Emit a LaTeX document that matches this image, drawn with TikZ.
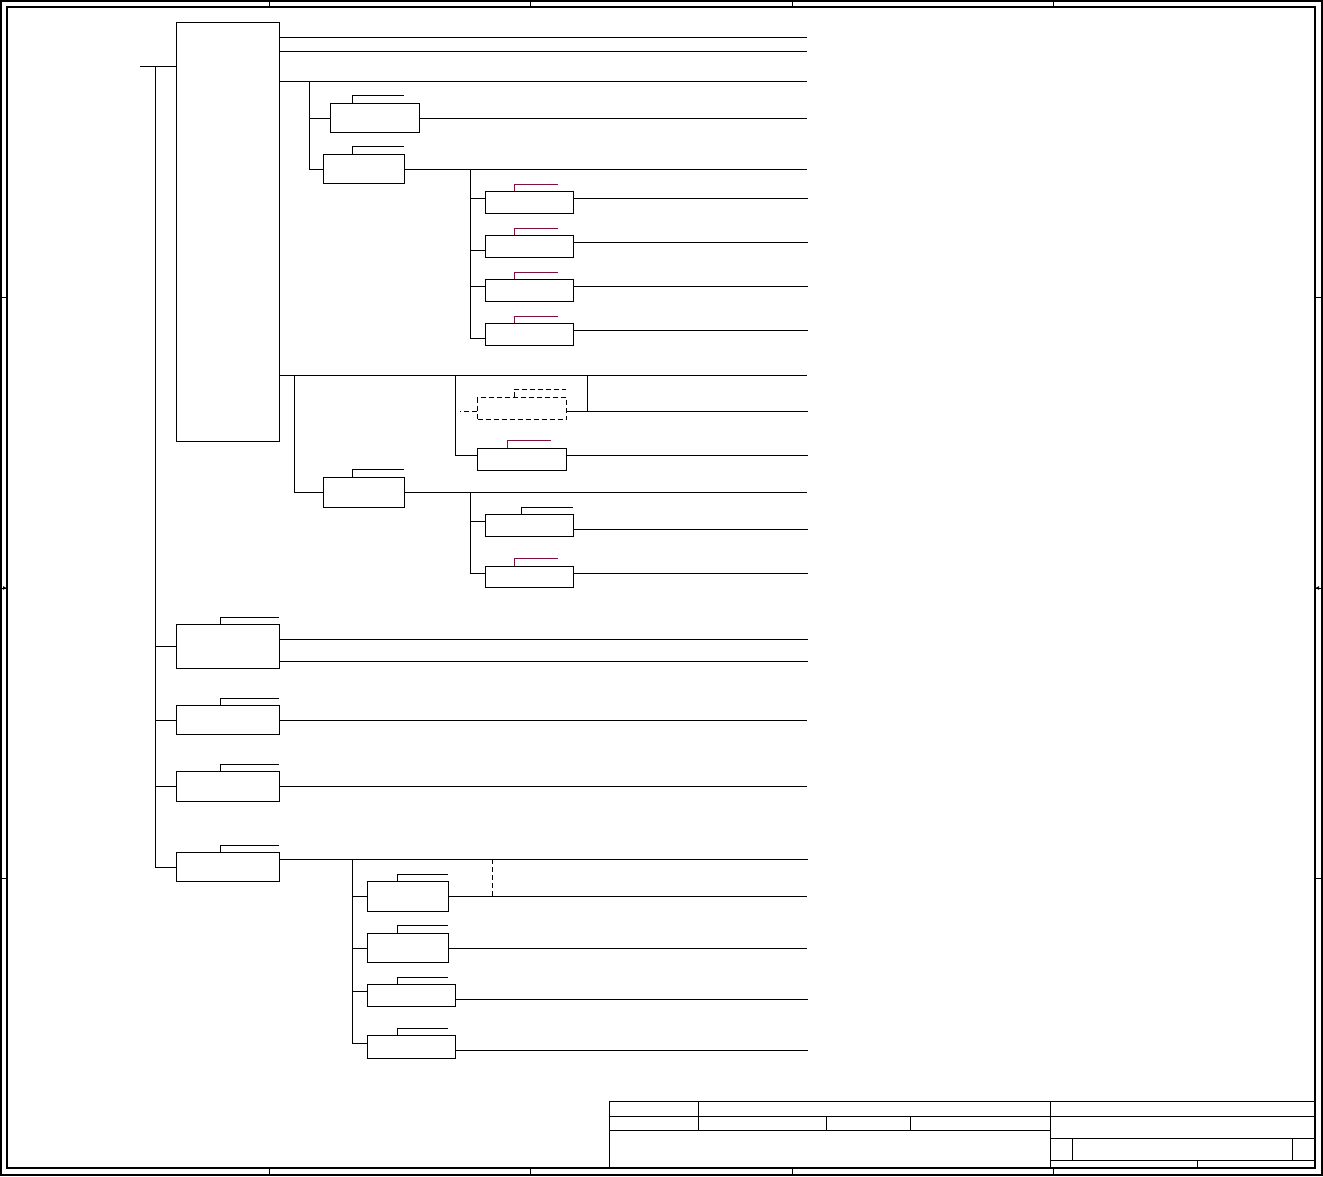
\documentclass[tikz,border=0pt]{standalone}
\usepackage{tikz}
\usetikzlibrary{arrows.meta,positioning,calc}
\definecolor{ink}{HTML}{000000}
\definecolor{tag}{HTML}{800F40}

\tikzset{
  unit/.style={draw=ink,line width=1pt,inner sep=0pt,anchor=north west},
  ghost/.style={unit,dash pattern=on 5pt off 3pt},
  wire/.style={ink,line width=1pt},
  dashwire/.style={wire,dash pattern=on 5pt off 3pt},
  tagline/.style={tag,line width=1pt},
  frame/.style={ink,line width=1.3pt},
}

\begin{document}
\begin{tikzpicture}[x=1pt,y=-1pt]
\useasboundingbox (0,0) rectangle (1323,1176);
% sheet frame and zone ticks
\draw[frame] (1,1) rectangle (1322,1175);
\draw[frame] (7,7) rectangle (1315,1168);
\foreach \x in {269,530,792,1053}{
  \draw[wire] (\x,1) -- (\x,7);
  \draw[wire] (\x,1168) -- (\x,1175);
}
\foreach \y in {297,588,878}{
  \draw[wire] (1,\y) -- (7,\y);
  \draw[wire] (1315,\y) -- (1322,\y);
}
\draw[wire,-{Latex[length=4pt,width=4pt]}] (1,588) -- (7,588);
\draw[wire,-{Latex[length=4pt,width=4pt]}] (1322,588) -- (1315,588);
% title block
\draw[wire] (609,1168) |- (1315,1101);
\draw[wire] (609,1116) -- (1315,1116);
\draw[wire] (609,1130) -- (1050,1130);
\draw[wire] (1050,1101) -- (1050,1168);
\draw[wire] (698,1101) -- (698,1130);
\foreach \x in {826,910} \draw[wire] (\x,1116) -- (\x,1130);
\draw[wire] (1050,1138) -- (1315,1138);
\draw[wire] (1050,1160) -- (1315,1160);
\foreach \x in {1072,1292} \draw[wire] (\x,1138) -- (\x,1160);
\draw[wire] (1197,1160) -- (1197,1168);

% tree
\coordinate (rim) at (807,0);
\coordinate (feed) at (140,66);
\node[unit,minimum width=103,minimum height=419] (a) at (176,22) {};
\draw[wire] (feed) -- (feed -| a.west);
\foreach \y in {37,51,81,375}
  \draw[wire] (a.north east |- 0,\y) -- (rim |- 0,\y);

% first branch of the main unit
\node[unit,minimum width=89,minimum height=29] (b) at (330,103) {};
\node[unit,minimum width=81,minimum height=29] (c) at (323,154) {};
\draw[wire] (309,81) -- (c.west -| 309,0);
\foreach \u/\dx in {b/22,c/29}{
  \draw[wire] (\u.west -| 309,0) -- (\u.west);
  \draw[wire] (\u.east) -- (\u.east -| rim);
  \draw[wire] ([xshift=\dx pt]\u.north west) |- ++(52,-8);
}
\draw[wire] (c.east -| 470,0) -- (470,338);
\foreach \n/\yt/\yb in {1/191/7,2/235/15,3/279/7,4/323/15}{
  \node[unit,minimum width=88,minimum height=22] (d\n) at (485,\yt) {};
  \draw[wire] ([yshift=-\yb pt]d\n.north west) -- ++(-15,0);
  \draw[wire] ([yshift=-7pt]d\n.north east) -- ++(234,0);
  \draw[tagline] ([xshift=29pt]d\n.north west) |- ++(44,-7);
}

% second branch of the main unit
\node[unit,minimum width=81,minimum height=30] (e) at (323,477) {};
\draw[wire] (294,375) -- (e.west -| 294,0) -- (e.west);
\draw[wire] (e.east) -- (e.east -| rim);
\draw[wire] ([xshift=29pt]e.north west) |- ++(52,-8);
\draw[wire] (455,375) -- (455,455);
\node[ghost,minimum width=89,minimum height=22] (g) at (477,397) {};
\draw[dashwire] ([yshift=-14pt]g.north west) -- ++(-17,0);
\draw[wire] ([yshift=-14pt]g.north east) -- ++(241,0);
\draw[dashwire] ([xshift=37pt]g.north west) |- ++(52,-8);
\draw[wire] (587,375) -- (587,411);
\node[unit,minimum width=89,minimum height=22] (f) at (477,448) {};
\draw[wire] ([yshift=-7pt]f.north west) -- ++(-22,0);
\draw[wire] ([yshift=-7pt]f.north east) -- ++(241,0);
\draw[tagline] ([xshift=30pt]f.north west) |- ++(44,-8);
\draw[wire] (e.east -| 470,0) -- (470,573);
\node[unit,minimum width=88,minimum height=22] (h1) at (485,514) {};
\draw[wire] ([yshift=-7pt]h1.north west) -- ++(-15,0);
\draw[wire] ([yshift=-15pt]h1.north east) -- ++(234,0);
\draw[wire] ([xshift=36pt]h1.north west) |- ++(52,-7);
\node[unit,minimum width=88,minimum height=21] (h2) at (485,566) {};
\draw[wire] ([yshift=-7pt]h2.north west) -- ++(-15,0);
\draw[wire] ([yshift=-7pt]h2.north east) -- ++(234,0);
\draw[tagline] ([xshift=29pt]h2.north west) |- ++(44,-8);

% lower units on the feeder
\node[unit,minimum width=103,minimum height=44] (j) at (176,624) {};
\node[unit,minimum width=103,minimum height=29] (k) at (176,705) {};
\node[unit,minimum width=103,minimum height=30] (l) at (176,771) {};
\node[unit,minimum width=103,minimum height=29] (m) at (176,852) {};
\draw[wire] (feed -| 155,0) -- (m.west -| 155,0);
\foreach \u in {j,k,l,m}{
  \draw[wire] (\u.west -| 155,0) -- (\u.west);
  \draw[wire] ([xshift=44pt]\u.north west) |- ++(59,-7);
}
\foreach \dy in {15,37}
  \draw[wire] ([yshift=-\dy pt]j.north east) -- ++(528,0);
\draw[wire] (k.east) -- (k.east -| rim);
\draw[wire] (l.east) -- (l.east -| rim);
\draw[wire] ([yshift=-7pt]m.north east) -- ++(528,0);

% units below the last feeder unit
\node[unit,minimum width=81,minimum height=30] (n1) at (367,881) {};
\node[unit,minimum width=81,minimum height=29] (n2) at (367,933) {};
\node[unit,minimum width=88,minimum height=22] (n3) at (367,984) {};
\node[unit,minimum width=88,minimum height=23] (n4) at (367,1035) {};
\draw[wire] (352,859) -- (352,1043);
\foreach \u in {n1,n2}{
  \draw[wire] (\u.west -| 352,0) -- (\u.west);
  \draw[wire] (\u.east) -- (\u.east -| rim);
}
\foreach \u/\yb in {n3/7,n4/8}{
  \draw[wire] ([yshift=-\yb pt]\u.north west) -- ++(-15,0);
  \draw[wire] ([yshift=-15pt]\u.north east) -- ++(352,0);
}
\foreach \u/\h in {n1/7,n2/8,n3/7,n4/7}
  \draw[wire] ([xshift=30pt]\u.north west) |- ++(51,-\h);
\draw[dashwire] (492,859) -- (n1.east -| 492,0);
\end{tikzpicture}
\end{document}
